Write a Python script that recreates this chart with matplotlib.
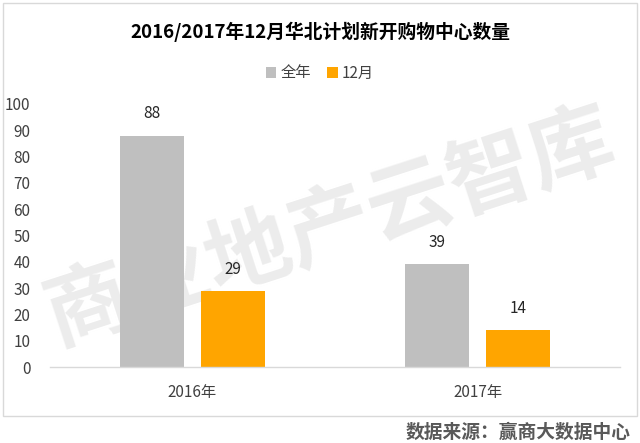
import matplotlib
matplotlib.use("Agg")
import matplotlib.pyplot as plt
from matplotlib.patches import Rectangle
import numpy as np

plt.rcParams['font.family'] = ['Noto Sans CJK SC', 'DejaVu Sans']

categories = ['2016年', '2017年']
series_names = ['全年', '12月']
full_year = [88, 39]
december = [29, 14]
yticks = list(range(0, 101, 10))

colors = ['#BFBFBF', '#FFA500']

fig = plt.figure(figsize=(6.4, 4.43), dpi=100)
fig.patch.set_facecolor('white')

# outer border
fig.patches.append(Rectangle((3/640, 1-416/443), 634/640, 413/443, transform=fig.transFigure,
                             fill=False, edgecolor='#D9D9D9', linewidth=1.0, zorder=0))

# watermark (behind axes)
fig.text(0.515, 1-228/443, '商业地产云智库', fontsize=61, fontweight='bold', color='#ECECEC',
         rotation=18, ha='center', va='center', zorder=0)

ax = fig.add_axes([50/640, 1-367/443, 570/640, 263/443])
ax.set_facecolor('none')
ax.set_zorder(1)

x = np.arange(len(categories))
w = 0.225
off = 0.143
b1 = ax.bar(x - off, full_year, width=w, color=colors[0], label=series_names[0], zorder=2)
b2 = ax.bar(x + off, december, width=w, color=colors[1], label=series_names[1], zorder=2)

for bars, vals in ((b1, full_year), (b2, december)):
    for rect, v in zip(bars, vals):
        ax.text(rect.get_x() + rect.get_width()/2, v + 5, str(v), ha='center', va='bottom',
                fontsize=11, color='#262626')

ax.set_xlim(-0.5, 1.5)
ax.set_ylim(0, 100)
ax.set_yticks(yticks)
ax.set_yticklabels([str(t) for t in yticks])
ax.set_xticks(x)
ax.set_xticklabels(categories)
ax.tick_params(axis='y', length=0, pad=14, labelsize=11, labelcolor='#404040')
ax.tick_params(axis='x', length=0, pad=12, labelsize=11, labelcolor='#404040')
for s in ['left', 'right', 'top']:
    ax.spines[s].set_visible(False)
ax.spines['bottom'].set_color('#D9D9D9')
ax.spines['bottom'].set_linewidth(1.0)

fig.text(0.5, 1-32/443, '2016/2017年12月华北计划新开购物中心数量', ha='center', va='center',
         fontsize=13.5, fontweight='bold', color='#000000')

leg = fig.legend(handles=[b1, b2], labels=series_names, loc='center', bbox_to_anchor=(0.5, 1-73/443),
                 ncol=2, frameon=False, fontsize=11, handlelength=0.7, handleheight=0.7,
                 handletextpad=0.3, columnspacing=1.0)
for t in leg.get_texts():
    t.set_color('#404040')

fig.text(0.985, 1-432/443, '数据来源：赢商大数据中心', ha='right', va='center',
         fontsize=13.5, fontweight='bold', color='#595959')

fig.savefig('out.png', dpi=100, facecolor='white')
